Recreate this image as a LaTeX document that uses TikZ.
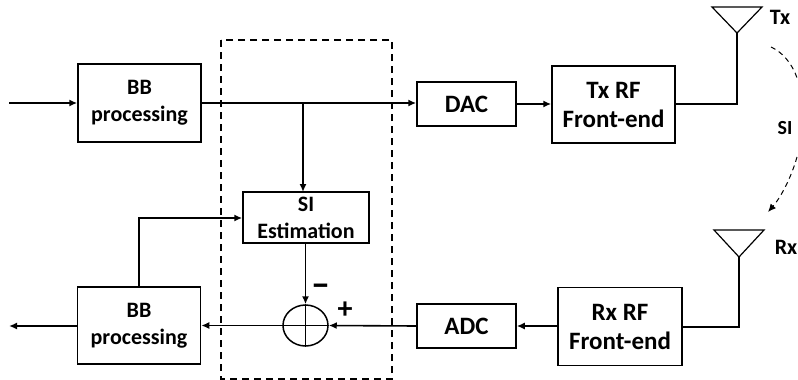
\documentclass[tikz,border=0pt]{standalone}
\usepackage{fontspec}
\setmainfont{Carlito}
\usetikzlibrary{arrows.meta,calc,shapes.geometric}
\tikzset{
	blockbox/.style={draw=black,line width=1.5pt,align=center,inner sep=0pt},
	wire/.style={line width=1.2pt},
	sigarrow/.style={line width=1.6pt,-{Latex[length=8pt,width=7pt]}},
	labeltext/.style={font=\fontsize{22}{27}\selectfont\bfseries,align=center},
	bigtext/.style={font=\fontsize{25}{29}\selectfont\bfseries,align=center}
}
\begin{document}
\begin{tikzpicture}[x=1pt,y=-1pt]
\useasboundingbox (0,0) rectangle (798,380);
\coordinate[] (InL) at (9,103);
\coordinate[] (OutL) at (9,326);
\coordinate[] (Tap) at (303,103);
\coordinate[] (EstIn) at (303,192);
\coordinate[] (EstOut) at (305.5,243);
\coordinate[] (Bend) at (139,218);
\coordinate[] (FbUp) at (139,287);
\coordinate[] (TxA) at (712,7);
\coordinate[] (TxB) at (762,7);
\coordinate[] (TxC) at (737,33);
\coordinate[] (TxD) at (737,104);
\coordinate[] (RxA) at (714,230);
\coordinate[] (RxB) at (764,230);
\coordinate[] (RxC) at (739,257);
\coordinate[] (RxD) at (739,327);
\node[blockbox,labeltext,minimum width=123pt,minimum height=78pt] (BBtx) at (139.5,103) {BB\\processing};
\node[blockbox,bigtext,minimum width=99pt,minimum height=44pt] (DAC) at (466.5,104) {DAC};
\node[blockbox,bigtext,minimum width=123pt,minimum height=77pt] (TxRF) at (613.5,104.5) {Tx RF\\Front-end};
\node[blockbox,labeltext,minimum width=126pt,minimum height=51pt] (Est) at (306,217.5) {SI\\Estimation};
\node[blockbox,labeltext,minimum width=123pt,minimum height=77pt] (BBrx) at (139,325.5) {BB\\processing};
\node[blockbox,bigtext,minimum width=99pt,minimum height=44pt] (ADC) at (466.5,326) {ADC};
\node[blockbox,bigtext,minimum width=124pt,minimum height=78pt] (RxRF) at (620,326.5) {Rx RF\\Front-end};
\node[draw=black,line width=1.5pt,shape=ellipse,minimum width=45pt,minimum height=41pt,inner sep=0pt] (Sum) at (305.5,325.5) {};
\draw[line width=1.7pt,dash pattern=on 7pt off 5pt] (221,40) rectangle (392,379);
\draw[wire] (Sum.north) -- (Sum.south);
\draw[wire] (Sum.west) -- (Sum.east);
\draw[sigarrow] (InL) -- (BBtx.west |- InL);
\draw[sigarrow] (BBtx.east |- InL) -- (DAC.west |- InL);
\draw[sigarrow] (DAC.east) -- (TxRF.west |- DAC.east);
\draw[sigarrow] (Tap) -- (EstIn);
\draw[sigarrow] (EstOut) -- (Sum.north);
\draw[sigarrow] (ADC.west) -- (Sum.east);
\draw[sigarrow] (Sum.west) -- (BBrx.east |- Sum.west);
\draw[sigarrow] (BBrx.west |- OutL) -- (OutL);
\draw[sigarrow] (RxRF.west |- ADC.east) -- (ADC.east);
\draw[sigarrow] (FbUp) -- (Bend) -- (Est.west |- Bend);
\draw[wire] (TxRF.east |- TxD) -- (TxD) -- (TxC);
\draw[wire] (RxRF.east |- RxD) -- (RxD) -- (RxC);
\draw[wire] (TxA) -- (TxB) -- (TxC) -- cycle;
\draw[wire] (RxA) -- (RxB) -- (RxC) -- cycle;
\draw[line width=1pt,dash pattern=on 5pt off 4pt] (771,47) .. controls (782,52) and (792,63) .. (797,78);
\draw[line width=1pt,dash pattern=on 5pt off 4pt,-{Latex[length=8pt,width=7pt]}] (797,157) .. controls (791,178) and (781,197) .. (768,212);
\node[labeltext] (TxName) at (780,17) {Tx};
\node[labeltext] (RxName) at (786,247) {Rx};
\node[labeltext,font=\fontsize{20}{20}\selectfont\bfseries] (SIName) at (785,128) {SI};
\node[labeltext,font=\fontsize{30}{30}\selectfont\bfseries] (Plus) at (345,310) {+};
\node[labeltext,font=\fontsize{38}{38}\selectfont\bfseries] (Minus) at (321,290) {--};
\end{tikzpicture}
\end{document}
